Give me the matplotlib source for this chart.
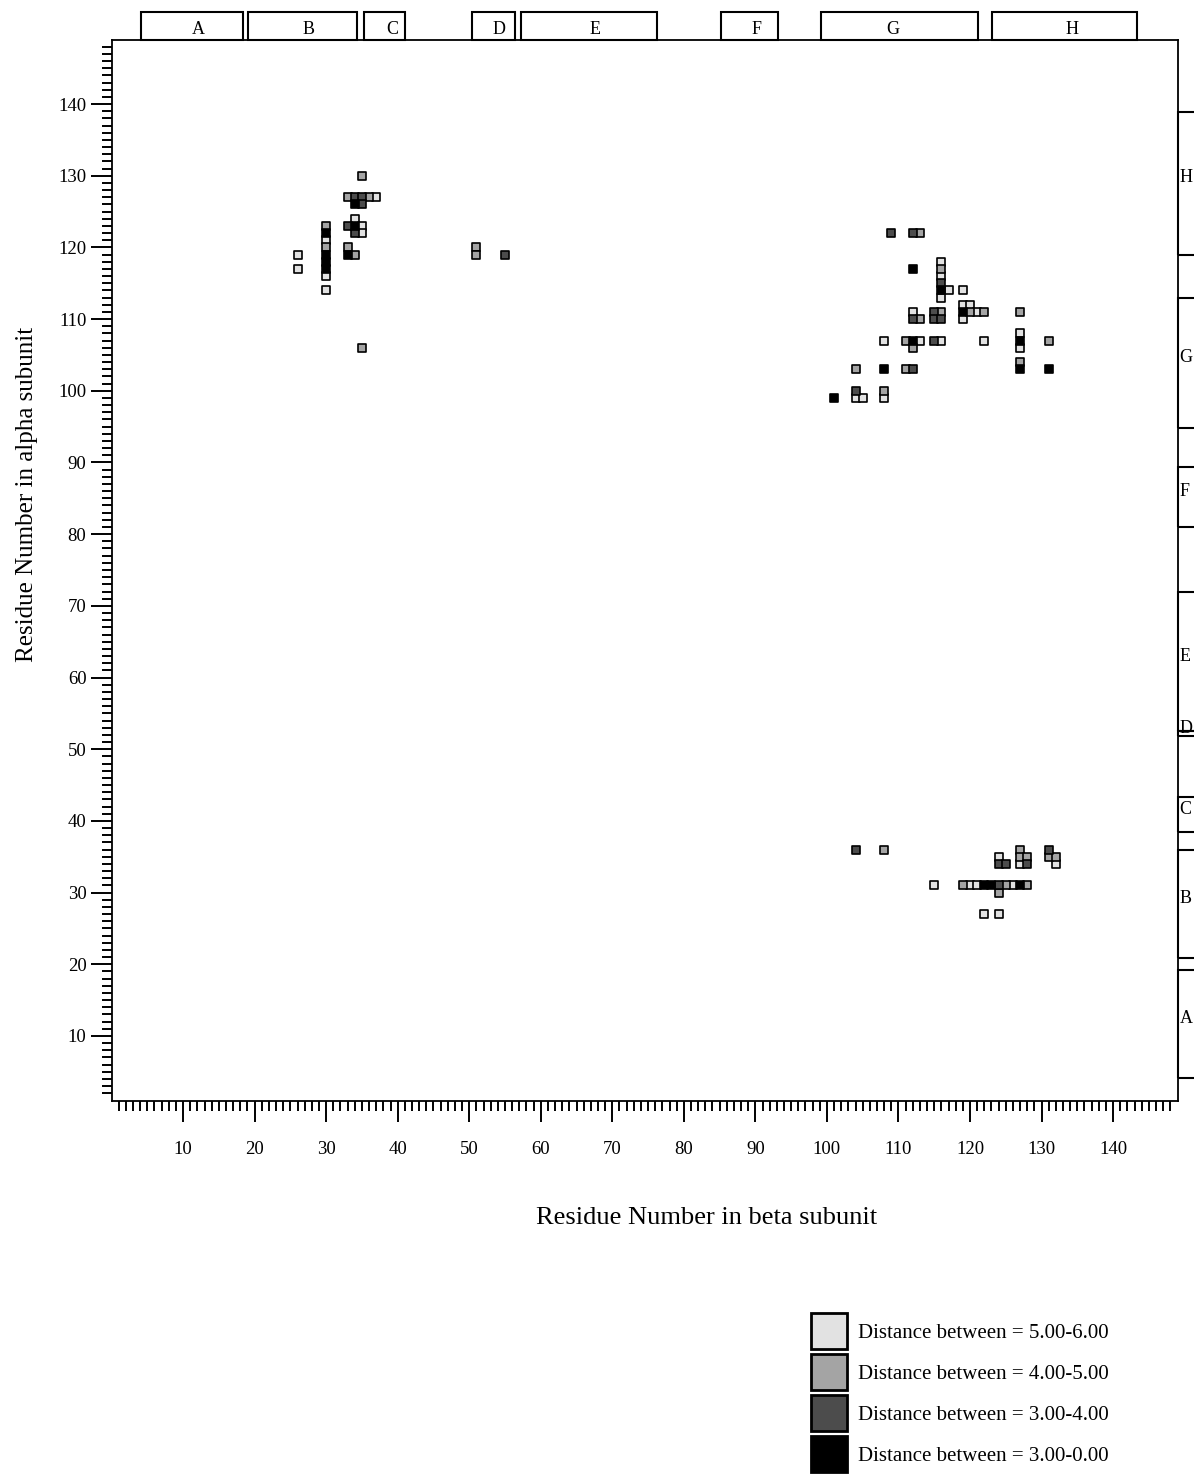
import matplotlib
matplotlib.use("Agg")
import matplotlib.pyplot as plt
import matplotlib.transforms as mtransforms
from matplotlib.patches import Rectangle
from matplotlib.lines import Line2D

plt.rcParams['font.family'] = ['Liberation Serif', 'DejaVu Serif']

# contacts: residue in beta subunit (x), residue in alpha subunit (y)
light_beta = [26, 26, 30, 30, 30, 37, 34, 35, 35,
              119, 117, 116, 116, 116, 119, 120, 121, 112, 119, 127, 127, 108, 113, 116, 122, 104, 105, 108,
              115, 120, 121, 126, 122, 124, 124, 127, 132]
light_alpha = [119, 117, 121, 116, 114, 127, 124, 123, 122,
               114, 114, 118, 116, 113, 112, 112, 111, 111, 110, 108, 106, 107, 107, 107, 107, 99, 99, 99,
               31, 31, 31, 31, 27, 27, 35, 34, 34]

medium_beta = [30, 30, 35, 33, 36, 33, 34, 35, 51, 51,
               113, 116, 120, 122, 116, 127, 113, 111, 131, 112, 127, 104, 111, 108,
               108, 119, 125, 128, 124, 127, 127, 128, 131, 132]
medium_alpha = [123, 120, 130, 127, 127, 120, 119, 106, 120, 119,
                122, 117, 111, 111, 111, 111, 110, 107, 107, 106, 104, 103, 103, 100,
                36, 31, 31, 31, 30, 36, 35, 35, 35, 35]

dark_beta = [34, 35, 35, 33, 34, 55,
             109, 112, 116, 115, 112, 115, 116, 115, 112, 104,
             104, 124, 124, 125, 128, 131]
dark_alpha = [127, 127, 126, 123, 122, 119,
              122, 122, 115, 111, 110, 110, 110, 107, 103, 100,
              36, 31, 34, 34, 34, 36]

black_beta = [30, 30, 30, 30, 34, 34, 33,
              112, 116, 119, 112, 127, 108, 127, 131, 101,
              122, 123, 127]
black_alpha = [122, 119, 118, 117, 126, 123, 119,
               117, 114, 111, 107, 107, 103, 103, 103, 99,
               31, 31, 31]

legend_labels = ["Distance between = 5.00-6.00", "Distance between = 4.00-5.00",
                 "Distance between = 3.00-4.00", "Distance between = 3.00-0.00"]
shades = ["#e2e2e2", "#a4a4a4", "#4c4c4c", "#000000"]

# helix segments
helix_names = ["A", "B", "C", "D", "E", "F", "G", "H"]
beta_helix_start = [4.1, 19.1, 35.3, 50.4, 57.2, 85.2, 99.2, 123.1]
beta_helix_end = [18.4, 34.3, 41.0, 56.4, 76.3, 93.2, 121.1, 143.3]
beta_label_pos = [12.1, 27.6, 39.2, 54.2, 67.6, 90.1, 109.2, 134.3]
alpha_helix_start = [4.2, 20.9, 38.4, 51.8, 52.5, 81.0, 94.8, 119.0]
alpha_helix_end = [19.2, 35.9, 43.3, 52.5, 71.9, 89.4, 113.0, 138.9]

fig = plt.figure(figsize=(11.94, 14.79), dpi=100)
ax = fig.add_axes([111.5 / 1194, 378.5 / 1479, 1066 / 1194, 1061 / 1479])

groups = [(light_beta, light_alpha), (medium_beta, medium_alpha),
          (dark_beta, dark_alpha), (black_beta, black_alpha)]
for (bx, ay), c in zip(groups, shades):
    ax.scatter(bx, ay, marker='s', s=27, facecolor=c, edgecolor='black', linewidth=1.2, zorder=3)

ax.set_xlim(0, 149)
ax.set_ylim(1, 149)

ax.set_xticks(range(10, 150, 10))
ax.set_xticks(range(1, 149), minor=True)
ax.set_yticks(range(10, 150, 10))
ax.set_yticks(range(2, 149), minor=True)
ax.tick_params(which='both', direction='out', width=1.4)
ax.tick_params(which='major', length=15, labelsize=13.5)
ax.tick_params(which='minor', length=7)
ax.tick_params(axis='x', which='major', pad=14)
ax.tick_params(axis='y', which='major', pad=3)
for sp in ax.spines.values():
    sp.set_linewidth(1.3)

ax.set_xlabel("Residue Number in beta subunit", fontsize=19)
ax.xaxis.set_label_coords(0.5586, -0.1005)
ax.set_ylabel("Residue Number in alpha subunit", fontsize=18)
ax.yaxis.set_label_coords(-0.069, 0.571)

# helix boxes above (beta) and to the right (alpha)
top_tr = mtransforms.blended_transform_factory(ax.transData, ax.transAxes)
for name, s, e, lx in zip(helix_names, beta_helix_start, beta_helix_end, beta_label_pos):
    ax.add_patch(Rectangle((s, 1.0), e - s, 0.0255, transform=top_tr, fill=False,
                           edgecolor='black', linewidth=1.5, clip_on=False))
    ax.text(lx, 1.0095, name, transform=top_tr, ha='center', va='center', fontsize=13)

right_tr = mtransforms.blended_transform_factory(ax.transAxes, ax.transData)
for name, s, e in zip(helix_names, alpha_helix_start, alpha_helix_end):
    ax.add_patch(Rectangle((1.0, s), 0.05, e - s, transform=right_tr, fill=False,
                           edgecolor='black', linewidth=1.5, clip_on=False))
    ax.text(1.0018, (s + e) / 2 + 0.8, name, transform=right_tr, ha='left', va='center', fontsize=13)

handles = [Line2D([], [], marker='s', linestyle='none', markersize=26, markerfacecolor=c,
                  markeredgecolor='black', markeredgewidth=2) for c in shades]
fig.legend(handles, legend_labels, loc='upper left', bbox_to_anchor=(810 / 1194, 0.1051),
           frameon=False, fontsize=15, borderpad=0, borderaxespad=0, handlelength=1.85,
           handletextpad=0.46, labelspacing=1.03)

fig.savefig("out.png", dpi=100)
